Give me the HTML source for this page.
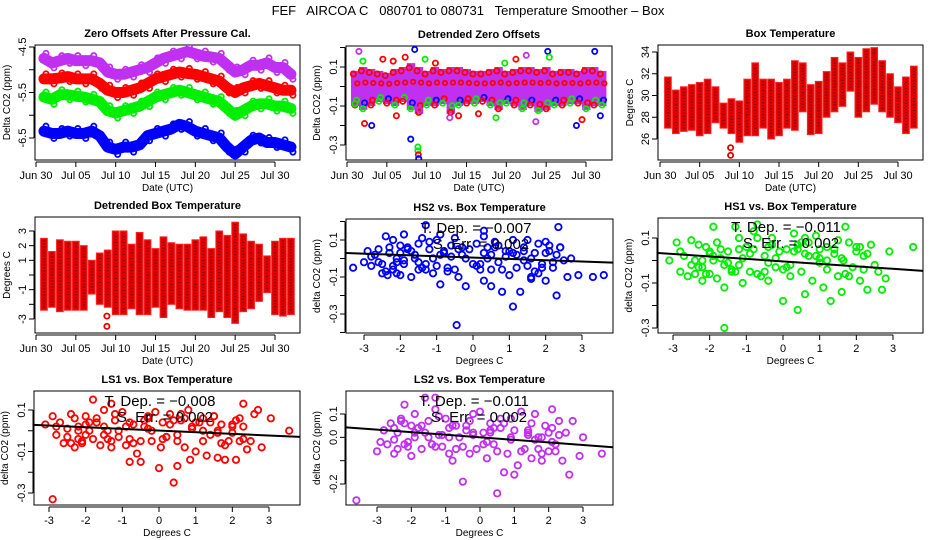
<!DOCTYPE html>
<html><head><meta charset="utf-8">
<style>
html,body{margin:0;padding:0;background:#fff;}
svg{display:block;font-family:"Liberation Sans",sans-serif;}
</style></head>
<body>
<svg id="chart" width="936" height="540" viewBox="0 0 936 540" xmlns="http://www.w3.org/2000/svg">
<rect width="936" height="540" fill="#fff"/>
<text x="468" y="15" font-size="13" text-anchor="middle" style="white-space:pre">FEF   AIRCOA C   080701 to 080731   Temperature Smoother – Box</text>
</svg>
<script>
// ---- Panel A: zero offsets (daily values, days since Jun 30) ----
const zoDays = [1,2,3,4,5,6,7,8,9,10,11,12,13,14,15,16,17,18,19,20,21,22,23,24,25,26,27,28,29,30,31,32];
const zoLS2 = [-4.75,-4.85,-4.8,-4.75,-4.8,-4.8,-4.8,-4.85,-5.05,-5.1,-5.1,-5.05,-5.0,-4.95,-4.85,-4.75,-4.7,-4.65,-4.6,-4.65,-4.7,-4.72,-4.75,-4.9,-5.05,-5.0,-4.9,-4.9,-4.85,-4.95,-4.95,-5.1];
const zoLS1 = [-5.2,-5.2,-5.18,-5.15,-5.2,-5.2,-5.2,-5.3,-5.45,-5.5,-5.5,-5.45,-5.4,-5.3,-5.2,-5.15,-5.1,-5.05,-5.08,-5.1,-5.15,-5.2,-5.25,-5.4,-5.5,-5.4,-5.35,-5.3,-5.35,-5.4,-5.45,-5.45];
const zoHS1 = [-5.6,-5.65,-5.55,-5.55,-5.58,-5.6,-5.65,-5.7,-5.9,-5.95,-5.9,-5.85,-5.8,-5.7,-5.6,-5.55,-5.5,-5.45,-5.5,-5.55,-5.6,-5.65,-5.7,-5.85,-6.0,-5.9,-5.8,-5.75,-5.75,-5.8,-5.8,-5.85];
const zoHS2 = [-6.35,-6.4,-6.4,-6.35,-6.4,-6.4,-6.35,-6.45,-6.7,-6.75,-6.7,-6.7,-6.65,-6.45,-6.4,-6.35,-6.3,-6.2,-6.25,-6.35,-6.4,-6.45,-6.5,-6.7,-6.85,-6.7,-6.55,-6.5,-6.6,-6.6,-6.65,-6.7];
const dateTicks = [0,5,10,15,20,25,30];
const dateLabels = ["Jun 30","Jul 05","Jul 10","Jul 15","Jul 20","Jul 25","Jul 30"];
// ---- Panel B: detrended zero offsets ----
const dzHi = [0.08,0.1,0.09,0.08,0.07,0.09,0.1,0.12,0.1,0.08,0.1,0.09,0.1,0.1,0.09,0.08,0.08,0.09,0.1,0.08,0.09,0.1,0.1,0.09,0.1,0.08,0.09,0.09,0.08,0.1,0.1,0.08];
const dzLo = [-0.1,-0.12,-0.1,-0.08,-0.09,-0.1,-0.08,-0.12,-0.14,-0.1,-0.1,-0.09,-0.14,-0.1,-0.09,-0.09,-0.08,-0.1,-0.12,-0.09,-0.1,-0.12,-0.1,-0.13,-0.12,-0.1,-0.1,-0.09,-0.09,-0.12,-0.1,-0.1];
const dzOutDay = [1.5,2.2,3.1,4.5,6.2,7.3,8.0,8.5,8.9,8.9,8.95,9.0,9.1,11.1,12.9,14.0,16.5,18.7,21.2,23.7,25.2,25.4,28.8,29.5,31.1,31.8,2.0,5.8,9.8,19.8,22.5,1.0];
const dzOutVal = [0.18,-0.19,-0.2,0.14,-0.15,0.15,-0.27,0.19,-0.31,-0.33,-0.35,-0.37,-0.12,0.12,-0.16,-0.15,-0.14,-0.16,0.14,-0.18,0.18,0.15,-0.2,-0.17,0.18,-0.15,0.13,0.13,0.14,0.12,0.16,-0.09];
const dzOutColor = ["m","r","b","r","r","r","b","b","g","g","r","b","m","r","m","r","r","g","r","m","b","g","b","r","b","b","g","r","g","g","m","g"];
// ---- Panel C/D: box temperature daily extremes ----
const btMax = [31.7,30.5,30.8,31,31.2,31.5,30.8,29.3,29.7,29.5,31.5,33,31.5,31.5,31.2,31.5,33.2,33,31,31.3,32.2,33.5,33,34,33.5,34.3,34.4,33.2,32,30.8,31.7,32.7];
const btMin = [27,26.5,26.7,26.8,26.3,26.5,27.5,27,26.5,25.7,26.3,26.3,27,26,26.3,27,26.8,28.5,26.4,26.5,28,28.5,29,30.4,28,28.5,29.2,28.5,28,27.5,26.5,27];
const btOutDay = [8.9,8.9];
const btOutVal = [25.2,24.5];
const dbMax = [2.5,1.6,2.4,2.3,2.3,2,1,1.5,1.7,3,3,2.1,2.9,2.4,1.8,2.6,2.2,2.1,2.1,2.4,2.6,1.8,3,2.7,3.6,2.8,2.3,2.1,1.3,2.3,2.5,2.5];
const dbMin = [-2.4,-2.2,-2.5,-2.4,-2.4,-2.4,-1.3,-2,-2.2,-2.7,-2.7,-2.3,-2.7,-2.7,-2.2,-2.9,-2,-2.3,-2.4,-2.4,-2.4,-2.9,-2.5,-2.9,-3.3,-2.5,-2.3,-1.8,-1.2,-2.7,-2.8,-2.7];
const dbOutDay = [8.9,8.9];
const dbOutVal = [-2.8,-3.5];
// ---- Scatter panels ----
const hs2Temp = [-3.3,-3.0,-2.9,-2.8,-2.7,-2.6,-2.5,-2.4,-2.3,-2.2,-2.2,-2.1,-2.0,-2.0,-1.9,-1.9,-1.8,-1.7,-1.6,-1.5,-1.5,-1.4,-1.3,-1.2,-1.1,-1.0,-0.9,-0.8,-0.7,-0.6,-0.5,-0.4,-0.3,-0.2,-0.1,0.0,0.1,0.2,0.3,0.3,0.4,0.5,0.6,0.7,0.8,0.9,1.0,1.1,1.1,1.2,1.3,1.4,1.5,1.6,1.7,1.8,1.9,2.0,2.0,2.1,2.2,2.3,2.4,2.5,2.6,2.7,2.9,3.3,3.6,-0.45,1.1,0.3,2.35,-2.35,-1.3,-0.9,1.6,2.4,-2.6,-1.0,-2.1,-1.6,-0.6,0.5,1.4,1.9,-1.8,0.8,
 -2.8,-2.5,-2.3,-2.1,-1.9,-1.7,-1.4,-1.2,-0.9,-0.7,-0.4,-0.2,0.1,0.3,0.5,0.7,0.9,1.2,1.4,1.6,1.8,2.0,2.2,-2.4,-1.5,-0.5,0.6,1.5,2.1,-1.1,-2.0,-1.3,-0.3,0.2,1.0,1.7,2.3,-2.2,-0.8,0.4];
const hs2Delta = [-0.05,-0.02,0.04,-0.04,0.02,0.05,-0.08,0.12,0.03,-0.06,0.1,0.0,0.07,-0.09,0.13,-0.03,0.05,-0.1,0.02,0.08,-0.06,0.11,-0.03,0.05,-0.08,0.1,-0.14,0.03,-0.05,0.07,0.11,-0.1,0.02,-0.15,0.05,-0.03,0.08,-0.06,0.12,-0.12,0.0,-0.15,0.06,-0.02,-0.18,0.04,-0.09,0.1,-0.26,0.02,-0.18,0.06,-0.04,-0.11,0.03,0.08,-0.05,0.09,-0.12,0.04,-0.02,-0.2,0.06,-0.01,-0.1,0.0,-0.09,-0.1,-0.09,-0.36,0.03,0.15,0.17,-0.09,0.18,0.13,-0.1,0.06,-0.02,-0.04,-0.02,0.0,0.01,0.02,-0.01,-0.03,0.06,-0.06,
 0.01,-0.03,0.06,-0.08,-0.01,0.04,-0.05,0.09,0.02,-0.07,0.05,0.0,-0.04,0.03,-0.06,0.07,0.01,-0.05,0.04,0.0,-0.08,0.03,-0.05,-0.07,-0.02,-0.06,0.09,0.1,0.07,0.0,0.03,-0.06,0.06,-0.03,0.04,-0.07,0.02,-0.04,0.04,0.06];
const hs1Temp = [-3.1,-2.9,-2.8,-2.7,-2.6,-2.5,-2.4,-2.3,-2.2,-2.1,-2.0,-2.0,-1.9,-1.8,-1.8,-1.7,-1.6,-1.6,-1.5,-1.4,-1.3,-1.2,-1.1,-1.0,-0.9,-0.8,-0.7,-0.6,-0.5,-0.4,-0.3,-0.2,-0.1,0.0,0.1,0.2,0.3,0.4,0.5,0.6,0.7,0.8,0.9,1.0,1.1,1.2,1.3,1.4,1.5,1.6,1.7,1.8,1.9,2.0,2.1,2.2,2.3,2.4,2.6,2.7,2.8,2.9,3.55,-1.9,-1.2,-0.7,0.4,1.65,-2.2,-1.6,0.0,0.6,1.2,2.5,-0.4,1.0,
 -2.8,-2.5,-2.3,-2.1,-1.9,-1.7,-1.4,-1.2,-0.9,-0.7,-0.4,-0.2,0.1,0.3,0.5,0.7,0.9,1.2,1.4,1.6,1.8,2.0,2.2,-2.4,-1.5,-0.5,0.6,1.5,2.1,-1.1,-2.0,-1.3,-0.3,0.2,1.0,1.7,2.3,-2.2,-0.8,0.4];
const hs1Delta = [0.0,0.08,-0.05,0.02,-0.07,0.09,0.0,-0.03,-0.09,0.06,0.03,-0.06,0.15,-0.08,0.08,0.01,-0.12,-0.3,0.04,-0.05,0.15,-0.02,-0.1,0.06,-0.05,0.13,0.16,-0.07,0.02,-0.09,0.1,-0.03,0.04,-0.18,0.05,-0.07,0.12,-0.22,0.08,-0.15,0.02,-0.09,0.11,-0.01,-0.12,0.06,-0.18,0.03,-0.07,-0.14,0.15,0.08,-0.03,0.06,-0.09,0.02,-0.13,0.07,-0.05,-0.13,-0.08,0.04,0.06,0.02,0.05,0.1,0.05,0.0,0.0,-0.02,-0.04,0.03,0.0,-0.02,-0.01,0.01,
 0.04,-0.02,0.07,-0.06,0.0,0.05,-0.04,0.1,0.03,-0.06,0.06,0.01,-0.03,0.04,-0.05,0.08,0.02,-0.04,0.05,0.01,-0.07,0.04,-0.04,-0.06,-0.01,-0.05,0.1,0.09,0.06,0.01,0.04,-0.05,0.07,-0.02,0.05,-0.06,0.03,-0.03,0.05,0.07];
const ls1Temp = [-3.1,-2.9,-2.8,-2.7,-2.6,-2.5,-2.4,-2.3,-2.2,-2.1,-2.0,-2.0,-1.9,-1.8,-1.8,-1.7,-1.6,-1.5,-1.4,-1.3,-1.3,-1.2,-1.1,-1.0,-0.9,-0.8,-0.7,-0.6,-0.5,-0.4,-0.3,-0.2,-0.1,0.0,0.05,0.1,0.2,0.3,0.4,0.5,0.6,0.7,0.8,0.85,0.9,1.0,1.1,1.2,1.3,1.4,1.5,1.6,1.7,1.8,1.9,2.0,2.1,2.2,2.3,2.4,2.5,2.6,2.7,2.8,3.05,3.55,-2.9,-1.5,-0.8,0.5,1.2,2.0,-2.2,-0.3,1.6,2.3,
 -2.8,-2.5,-2.3,-2.1,-1.9,-1.7,-1.4,-1.2,-0.9,-0.7,-0.4,-0.2,0.1,0.3,0.5,0.7,0.9,1.2,1.4,1.6,1.8,2.0,2.2,-2.4,-1.5,-0.5,0.6,1.5,2.1,-1.1,-2.0,-1.3,-0.3,0.2,1.0,1.7,2.3,-2.2,-0.8,0.4];
const ls1Delta = [0.03,0.07,-0.02,0.04,-0.06,0.01,0.08,-0.08,0.02,-0.05,0.07,-0.02,0.04,0.15,-0.04,0.06,-0.07,0.1,0.0,0.13,-0.08,0.05,-0.03,0.09,-0.07,-0.15,0.03,-0.11,-0.15,0.02,0.07,-0.05,0.09,-0.18,-0.08,0.04,-0.03,0.08,-0.25,-0.17,0.05,-0.08,0.1,-0.14,0.02,-0.1,0.04,0.06,-0.12,-0.02,0.07,-0.13,0.03,-0.14,-0.05,0.02,-0.14,0.06,0.13,-0.09,-0.05,0.08,0.1,-0.08,0.06,0.0,-0.33,0.02,-0.04,-0.02,0.0,-0.01,0.0,0.01,-0.01,-0.04,
 0.02,-0.03,0.06,-0.06,0.0,0.04,-0.04,0.08,0.02,-0.06,0.05,0.0,-0.04,0.03,-0.05,0.06,0.01,-0.05,0.04,0.0,-0.07,0.03,-0.05,-0.06,-0.02,-0.05,0.08,0.07,0.05,0.0,0.03,-0.05,0.06,-0.03,0.04,-0.06,0.02,-0.04,0.04,0.05];
const ls2Temp = [-3.6,-3.0,-2.9,-2.8,-2.7,-2.6,-2.5,-2.4,-2.3,-2.2,-2.1,-2.0,-1.9,-1.8,-1.7,-1.6,-1.5,-1.4,-1.3,-1.3,-1.2,-1.1,-1.0,-0.9,-0.8,-0.7,-0.6,-0.5,-0.4,-0.3,-0.2,-0.1,0.0,0.1,0.2,0.3,0.4,0.5,0.6,0.7,0.8,0.9,1.0,1.1,1.2,1.3,1.4,1.5,1.6,1.7,1.8,1.9,2.0,2.1,2.2,2.3,2.4,2.5,2.6,2.7,2.9,3.0,3.55,-2.2,-1.6,-0.9,0.3,1.4,2.1,-1.9,-0.2,0.9,1.8,-2.5,
 -2.8,-2.5,-2.3,-2.1,-1.9,-1.7,-1.4,-1.2,-0.9,-0.7,-0.4,-0.2,0.1,0.3,0.5,0.7,0.9,1.2,1.4,1.6,1.8,2.0,2.2,-2.4,-1.5,-0.5,0.6,1.5,2.1,-1.1,-2.0,-1.3,-0.3,0.2,1.0,1.7,2.3,-2.2,-0.8,0.4];
const ls2Delta = [-0.27,-0.06,-0.02,0.03,-0.03,0.06,-0.07,0.02,0.08,0.14,-0.02,-0.08,0.1,0.04,-0.05,0.17,0.07,-0.03,0.17,0.12,0.01,-0.04,0.08,-0.07,-0.1,0.05,0.0,-0.19,0.03,-0.07,0.1,-0.05,0.11,0.02,-0.09,0.06,-0.03,-0.24,0.04,-0.15,-0.07,0.08,-0.16,-0.12,0.11,-0.05,0.02,-0.09,0.1,0.0,-0.1,0.05,-0.06,0.12,-0.03,0.07,-0.1,0.02,-0.16,0.07,-0.08,0.0,-0.07,0.06,0.02,0.0,0.02,0.01,-0.02,0.0,0.02,-0.01,0.0,0.04,
 0.03,-0.01,0.07,-0.04,0.02,0.05,-0.03,0.09,0.04,-0.05,0.05,0.01,-0.03,0.03,-0.06,0.06,0.0,-0.06,0.03,-0.01,-0.07,0.02,-0.06,-0.05,0.0,-0.04,0.08,0.06,0.04,0.01,0.05,-0.04,0.07,-0.02,0.03,-0.05,0.01,-0.03,0.05,0.04];
const slopes = [-0.007,-0.011,-0.008,-0.011];
const intercepts = [0.005,-0.004,0.001,0.0];

const NS = "http://www.w3.org/2000/svg";
const svg = document.getElementById("chart");
function el(tag, attrs, parent){
  const e = document.createElementNS(NS, tag);
  for (const k in attrs) e.setAttribute(k, attrs[k]);
  (parent||svg).appendChild(e);
  return e;
}
function lin(v0,p0,v1,p1){ return v => p0 + (v - v0) * (p1 - p0) / (v1 - v0); }

function frame(P){
  const g = el("g", {});
  
  
  const box = el("rect", {x:P.x0, y:P.y0, width:P.x1-P.x0, height:P.y1-P.y0, fill:"none", stroke:"#000", "stroke-width":1}, g);
  
  
  const t = el("text", {x:(P.x0+P.x1)/2, y:P.y0-8, "font-size":11, "font-weight":"bold", "text-anchor":"middle"}, g);
  t.textContent = P.title;
  
  
  const xa = el("g", {}, g);
  
  
  const xs = P.xt.map(P.sx);
  el("line", {x1:xs[0], x2:xs[xs.length-1], y1:P.y1+2, y2:P.y1+2, stroke:"#000"}, xa);
  P.xt.forEach((v,i)=>{
    const X = P.sx(v);
    el("line", {x1:X, x2:X, y1:P.y1+2, y2:P.y1+7, stroke:"#000"}, xa);
    const l = el("text", {x:X, y:P.y1+19, "font-size":11, "text-anchor":"middle"}, xa);
    l.textContent = P.xl[i];
    
    
  });
  const xt = el("text", {x:(P.x0+P.x1)/2, y:P.y1+31, "font-size":10, "text-anchor":"middle"}, g);
  xt.textContent = P.xlab;
  
  
  const ya = el("g", {}, g);
  
  
  const ys = P.yt.map(P.sy);
  el("line", {x1:P.x0-1, x2:P.x0-1, y1:Math.min(...ys), y2:Math.max(...ys), stroke:"#000"}, ya);
  P.yt.forEach((v,i)=>{
    const Y = P.sy(v);
    el("line", {x1:P.x0-1, x2:P.x0-6, y1:Y, y2:Y, stroke:"#000"}, ya);
    if (P.yl[i] !== "") {
      const l = el("text", {x:P.x0-9, y:Y, "font-size":11, "text-anchor":"middle", transform:`rotate(-90 ${P.x0-9} ${Y})`}, ya);
      l.textContent = P.yl[i];
      
      
    }
  });
  const yx = P.ylx, yy = (P.y0+P.y1)/2;
  const yt = el("text", {x:yx, y:yy, "font-size":10, "text-anchor":"middle", transform:`rotate(-90 ${yx} ${yy})`}, g);
  yt.textContent = P.ylab;
  
  
  const clip = "clip"+Math.round(P.x0)+"_"+Math.round(P.y0);
  const cp = el("clipPath", {id:clip}, g);
  el("rect", {x:P.x0, y:P.y0, width:P.x1-P.x0, height:P.y1-P.y0}, cp);
  const marks = el("g", {"clip-path":`url(#${clip})`}, g);
  
  
  return marks;
}
function pt(g, x, y, c, r){
  const p = el("circle", {cx:x, cy:y, r:r||2.6, fill:"none", stroke:c, "stroke-width":1.8}, g);
  
  
  return p;
}
const COL = {r:"#ff0000", g:"#00ee00", b:"#0000ff", m:"#c030f0"};

// Panel A
{
  const sx = lin(0,36,30,275), sy = lin(-4.5,47,-6.5,138);
  const g = frame({name:"panel-zero-offsets", x0:35,x1:300,y0:45,y1:160, sx, sy, xt:dateTicks, xl:dateLabels,
    yt:[-4.5,-5,-5.5,-6,-6.5], yl:["-4.5","","-5.5","","-6.5"], title:"Zero Offsets After Pressure Cal.",
    xlab:"Date (UTC)", ylab:"Delta CO2 (ppm)", ylx:10});
  [[zoLS2,COL.m,"series-ls2"],[zoLS1,COL.r,"series-ls1"],[zoHS1,COL.g,"series-hs1"],[zoHS2,COL.b,"series-hs2"]].forEach(([arr,c,n])=>{
    const d = arr.map((v,i)=>`${sx(zoDays[i])},${sy(v)}`).join(" ");
    const pl = el("polyline", {points:d, fill:"none", stroke:c, "stroke-width":11, "stroke-linejoin":"round", "stroke-linecap":"round"}, g);
    
    
    arr.forEach((v,i)=>pt(g, sx(zoDays[i])+2, sy(v)+((i%2)?5:-5), c, 2.6));
  });
}
// Panel B
{
  const sx = lin(0,347,30,586), sy = lin(0.1,67,-0.1,106);
  const g = frame({name:"panel-detrended-zero-offsets", x0:346,x1:612,y0:46,y1:160, sx, sy, xt:dateTicks, xl:dateLabels,
    yt:[0.2,0.1,0,-0.1,-0.2,-0.3], yl:["","0.1","","-0.1","","-0.3"], title:"Detrended Zero Offsets",
    xlab:"Date (UTC)", ylab:"Delta CO2 (ppm)", ylx:320});
  dzHi.forEach((h,i)=>{
    const d = zoDays[i];
    const r = el("rect", {x:sx(d-0.5), y:sy(h), width:sx(d+0.5)-sx(d-0.5)+0.5, height:sy(dzLo[i])-sy(h), fill:COL.m}, g);
    
    
  });
  dzHi.forEach((h,i)=>{
    const d = zoDays[i];
    pt(g, sx(d-0.2), sy(h*0.8), COL.r);
    pt(g, sx(d+0.2), sy(dzLo[i]*0.7), (i%3==0)?COL.g:(i%3==1?COL.b:COL.r));
    pt(g, sx(d), sy(dzLo[i]*0.95), (i%2)?COL.g:COL.r);
    pt(g, sx(d+0.3), sy(h*0.2), COL.r, 2.2);
  });
  dzOutDay.forEach((d,i)=>pt(g, sx(d), sy(dzOutVal[i]), COL[dzOutColor[i]]));
}
// Panels C, D
function tempPanel(P, mx, mn, od, ov){
  const g = frame(P);
  mx.forEach((v,i)=>{
    const d = zoDays[i];
    const x0 = P.sx(d-0.42), x1 = P.sx(d+0.42);
    const r = el("rect", {x:x0, y:P.sy(v), width:x1-x0, height:P.sy(mn[i])-P.sy(v), fill:"#e00000", stroke:"#ff2020", "stroke-width":1}, g);
    
    
    el("line", {x1:(x0+x1)/2, x2:(x0+x1)/2, y1:P.sy(v)+2, y2:P.sy(mn[i])-2, stroke:"#400", "stroke-width":2, "stroke-dasharray":"1 2", opacity:0.7}, g);
  });
  od.forEach((d,i)=>pt(g, P.sx(d), P.sy(ov[i]), "#e00000"));
}
tempPanel({name:"panel-box-temperature", x0:658,x1:923,y0:45,y1:160, sx:lin(0,660,30,898), sy:lin(34,52,26,139), xt:dateTicks, xl:dateLabels,
  yt:[26,28,30,32,34], yl:["26","28","30","32","34"], title:"Box Temperature", xlab:"Date (UTC)", ylab:"Degrees C", ylx:633}, btMax, btMin, btOutDay, btOutVal);
tempPanel({name:"panel-detrended-box-temperature", x0:35,x1:300,y0:217,y1:333, sx:lin(0,36,30,275), sy:lin(3,231,-3,319), xt:dateTicks, xl:dateLabels,
  yt:[3,2,1,0,-1,-2,-3], yl:["3","2","1","","-1","","-3"], title:"Detrended Box Temperature", xlab:"Date (UTC)", ylab:"Degrees C", ylx:10}, dbMax, dbMin, dbOutDay, dbOutVal);

// Scatter panels
function scatter(P, tx, dy, c, k){
  const g = frame(P);
  const n = Math.min(tx.length, dy.length);
  for (let i=0;i<n;i++) pt(g, P.sx(tx[i]), P.sy(dy[i]), c, 3.2);
  const xa = -4.5, xb = 4.5;
  const ln = el("line", {x1:P.sx(xa), y1:P.sy(intercepts[k]+slopes[k]*xa), x2:P.sx(xb), y2:P.sy(intercepts[k]+slopes[k]*xb), stroke:"#000", "stroke-width":2}, g);
  
  
  const cx = P.tx;
  const t1 = el("text", {x:cx, y:P.ty, "font-size":15, "text-anchor":"middle"});
  t1.textContent = "T. Dep. = " + slopes[k].toFixed(3).replace("-", "−");
  
  
  const t2 = el("text", {x:cx+5, y:P.ty+16, "font-size":15, "text-anchor":"middle"});
  t2.textContent = "S. Err. = 0.002";
  
  
}
const tT = [-3,-2,-1,0,1,2,3], tL = ["-3","-2","-1","0","1","2","3"];
scatter({name:"panel-hs2-vs-box-temp", x0:346,x1:613,y0:219,y1:333, sx:lin(0,473,3,582), sy:lin(0.1,240,-0.1,277), xt:tT, xl:tL,
  yt:[0.2,0.1,0,-0.1,-0.2,-0.3,-0.4], yl:["","0.1","","-0.1","","-0.3",""], title:"HS2 vs. Box Temperature",
  xlab:"Degrees C", ylab:"delta CO2 (ppm)", ylx:320, tx:476, ty:233}, hs2Temp, hs2Delta, COL.b, 0);
scatter({name:"panel-hs1-vs-box-temp", x0:658,x1:923,y0:218,y1:333, sx:lin(0,783,3,893), sy:lin(0.1,238,-0.1,283), xt:tT, xl:tL,
  yt:[0.1,0,-0.1,-0.2,-0.3], yl:["0.1","","-0.1","","-0.3"], title:"HS1 vs. Box Temperature",
  xlab:"Degrees C", ylab:"delta CO2 (ppm)", ylx:632, tx:786, ty:232}, hs1Temp, hs1Delta, COL.g, 1);
scatter({name:"panel-ls1-vs-box-temp", x0:34,x1:300,y0:391,y1:505, sx:lin(0,159,3,269), sy:lin(0.1,410,-0.1,451.5), xt:tT, xl:tL,
  yt:[0.1,0,-0.1,-0.2,-0.3], yl:["0.1","","-0.1","","-0.3"], title:"LS1 vs. Box Temperature",
  xlab:"Degrees C", ylab:"delta CO2 (ppm)", ylx:8, tx:160, ty:406}, ls1Temp, ls1Delta, COL.r, 2);
scatter({name:"panel-ls2-vs-box-temp", x0:346,x1:613,y0:391,y1:505, sx:lin(0,480,3,583), sy:lin(0.1,414,-0.2,484), xt:tT, xl:tL,
  yt:[0.1,0,-0.1,-0.2], yl:["0.1","0.0","","-0.2"], title:"LS2 vs. Box Temperature",
  xlab:"Degrees C", ylab:"delta CO2 (ppm)", ylx:320, tx:474, ty:406}, ls2Temp, ls2Delta, COL.m, 3);
</script>
</body></html>
